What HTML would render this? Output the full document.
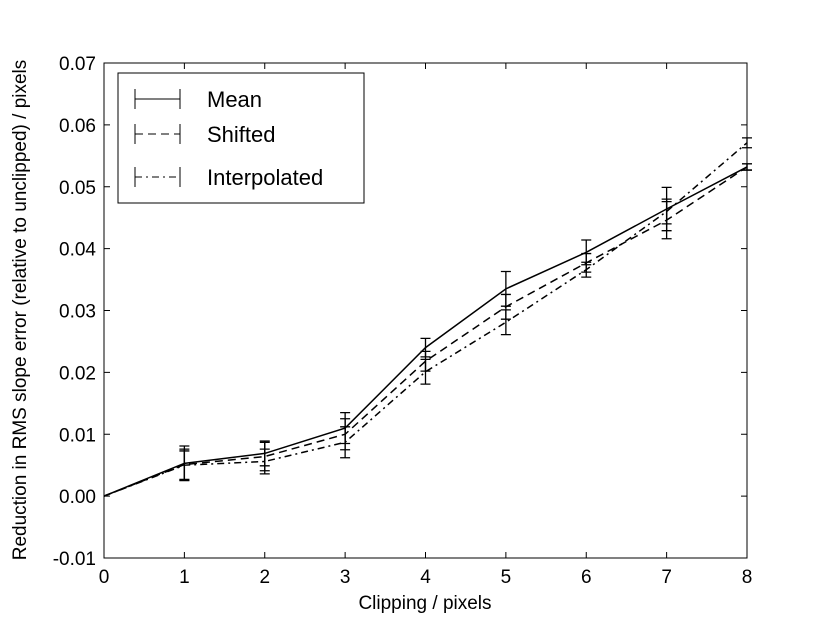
<!DOCTYPE html>
<html><head><meta charset="utf-8"><style>
body{margin:0;background:#fff;}
svg text{font-family:"Liberation Sans",sans-serif;fill:#000;}
</style></head><body>
<svg id="chart" width="830" height="623" xmlns="http://www.w3.org/2000/svg">
<rect x="104" y="63" width="643" height="495" fill="#fff" stroke="none"/>
<g id="marks"></g>
<g id="axes"></g>
<rect x="104" y="63" width="643" height="495" fill="none" stroke="#000" stroke-width="1"/>
<text x="425" y="609" font-size="19" text-anchor="middle">Clipping / pixels</text>
<text transform="translate(26,310) rotate(-90)" font-size="19" text-anchor="middle">Reduction in RMS slope error (relative to unclipped) / pixels</text>
<g>
<rect x="118" y="73" width="246" height="130" fill="#fff" stroke="#000"/>
<g>
<line x1="135" y1="99" x2="180" y2="99" stroke="#000"/><line x1="135" y1="89" x2="135" y2="109" stroke="#000"/><line x1="180" y1="89" x2="180" y2="109" stroke="#000"/>
<text x="207" y="107" font-size="22">Mean</text></g>
<g>
<line x1="135" y1="134" x2="180" y2="134" stroke="#000" stroke-dasharray="8,5"/><line x1="135" y1="124" x2="135" y2="144" stroke="#000"/><line x1="180" y1="124" x2="180" y2="144" stroke="#000"/>
<text x="207" y="142" font-size="22">Shifted</text></g>
<g>
<line x1="135" y1="177" x2="180" y2="177" stroke="#000" stroke-dasharray="7,4,2,4"/><line x1="135" y1="167" x2="135" y2="187" stroke="#000"/><line x1="180" y1="167" x2="180" y2="187" stroke="#000"/>
<text x="207" y="185" font-size="22">Interpolated</text></g>
</g>
</svg>
<script>
const categories=[0,1,2,3,4,5,6,7,8];
const meanValues=[0,0.0053,0.0069,0.0110,0.0240,0.0335,0.0394,0.0464,0.0532];
const meanErrors=[0,0.0028,0.0020,0.0025,0.0015,0.0028,0.0020,0.0035,0.0005];
const shiftedValues=[0,0.0051,0.0064,0.0100,0.0218,0.0306,0.0377,0.0446,0.0532];
const shiftedErrors=[0,0.0025,0.0023,0.0025,0.0016,0.0020,0.0015,0.0030,0.0005];
const interpValues=[0,0.0050,0.0056,0.0087,0.0201,0.0281,0.0366,0.0460,0.0571];
const interpErrors=[0,0.0023,0.0020,0.0025,0.0020,0.0020,0.0012,0.0020,0.0008];
const xTicks=[0,1,2,3,4,5,6,7,8];
const yTicks=[-0.01,0,0.01,0.02,0.03,0.04,0.05,0.06,0.07];
const NS="http://www.w3.org/2000/svg";
const X=v=>104+(v-0)/8*643;
const Y=v=>558-(v+0.01)/0.08*495;
const marks=document.getElementById('marks'),axes=document.getElementById('axes');
function mk(tag,attrs,parent){const e=document.createElementNS(NS,tag);for(const k in attrs)e.setAttribute(k,attrs[k]);parent.appendChild(e);return e;}
xTicks.forEach(t=>{
 const l=mk('line',{x1:X(t),x2:X(t),y1:558,y2:552,stroke:'#000'},axes);
 
 
 const l2=mk('line',{x1:X(t),x2:X(t),y1:63,y2:69,stroke:'#000'},axes);
 
 
 const tx=mk('text',{x:X(t),y:583,'font-size':19,'text-anchor':'middle'},axes);tx.textContent=t;
 
 
});
yTicks.forEach(t=>{
 const l=mk('line',{x1:104,x2:110,y1:Y(t),y2:Y(t),stroke:'#000'},axes);
 
 
 const l2=mk('line',{x1:741,x2:747,y1:Y(t),y2:Y(t),stroke:'#000'},axes);
 
 
 const tx=mk('text',{x:96,y:Y(t)+7,'font-size':19,'text-anchor':'end'},axes);tx.textContent=t.toFixed(2);
 
 
});
function series(vals,errs,dash,name){
 const g=mk('g',{},marks);
 
 
 const p=mk('polyline',{points:categories.map((c,i)=>X(c)+','+Y(vals[i])).join(' '),fill:'none',stroke:'#000','stroke-width':1.5,'stroke-dasharray':dash},g);
 
 
 categories.forEach((c,i)=>{
  if(errs[i]<=0)return;
  const x=X(c),t=Y(vals[i]+errs[i]),b=Y(vals[i]-errs[i]);
  const e=mk('path',{d:`M${x},${t}V${b}M${x-5},${t}H${x+5}M${x-5},${b}H${x+5}`,stroke:'#000','stroke-width':1.3,fill:'none'},g);
  
  
 });
}
series(meanValues,meanErrors,'none','mean');
series(shiftedValues,shiftedErrors,'8,5','shifted');
series(interpValues,interpErrors,'7,4,2,4','interpolated');
</script>
</body></html>
